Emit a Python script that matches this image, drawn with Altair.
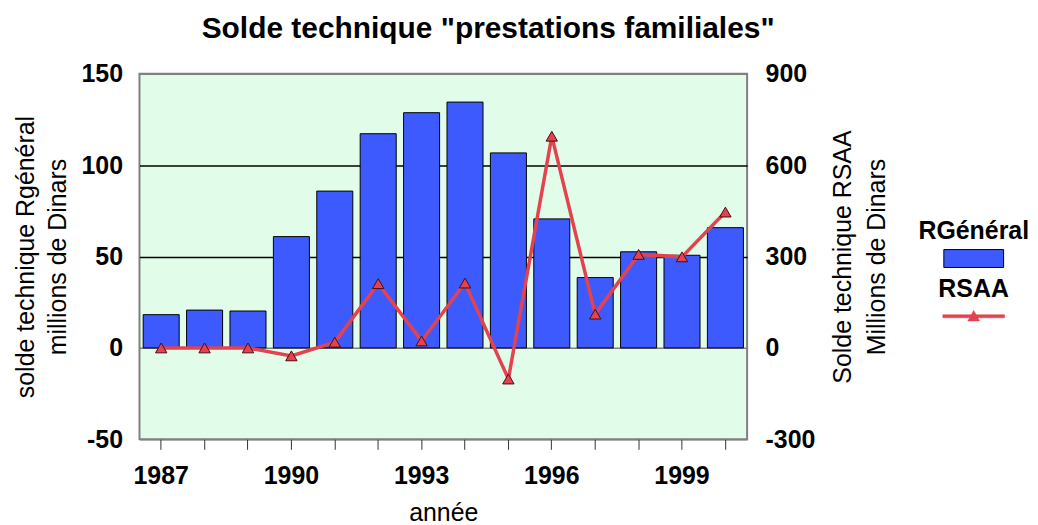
import altair as alt
import pandas as pd

years = [1987, 1988, 1989, 1990, 1991, 1992, 1993, 1994, 1995, 1996, 1997, 1998, 1999, 2000]
rgeneral = [18.2, 20.7, 20.2, 60.9, 85.8, 117.2, 128.7, 134.5, 106.7, 70.6, 38.5, 52.6, 50.7, 65.8]
rsaa = [0, 0, 0, -26, 19, 211, 23, 213, -102, 695, 111, 307, 299, 446]
left_ticks = [-50, 0, 50, 100, 150]
right_ticks = [-300, 0, 300, 600, 900]

df = pd.DataFrame({
    "annee": years,
    "rgeneral": rgeneral,
    "rsaa": rsaa,
    "s1": ["RGénéral"] * len(years),
    "s2": ["RSAA"] * len(years),
})

FONT = "Liberation Sans"
BLUE = "#3d5afe"
RED = "#e2434f"
MINUS = "datum.value < 0 ? '-' + abs(datum.value) : datum.label"

x = alt.X(
    "annee:O",
    scale=alt.Scale(paddingInner=0.17, paddingOuter=0.085),
    axis=alt.Axis(
        title="année",
        labelExpr="(datum.value - 1987) % 3 == 0 ? datum.label : ''",
        labelAngle=0,
        labelFont=FONT, labelFontSize=25, labelFontWeight="bold", labelColor="black",
        labelPadding=14,
        titleFont=FONT, titleFontSize=25, titleFontWeight="normal", titleColor="black",
        titlePadding=12,
        tickSize=10, tickColor="#333333", tickWidth=1,
        domain=False, grid=False,
    ),
)

y_left = alt.Y(
    "rgeneral:Q",
    scale=alt.Scale(domain=[-50, 150], nice=False, zero=False),
    axis=alt.Axis(
        values=left_ticks,
        labelExpr=MINUS,
        title=["solde technique Rgénéral", "millions de Dinars"],
        titleFont=FONT, titleFontSize=25, titleFontWeight="normal", titleColor="black",
        titleLineHeight=32, titlePadding=11,
        labelFont=FONT, labelFontSize=25, labelFontWeight="bold", labelColor="black",
        labelPadding=17,
        ticks=False, domain=False, grid=True,
        gridColor={"condition": {"test": "datum.value === 50 || datum.value === 100", "value": "black"},
                   "value": "#808080"},
        gridWidth=1.5,
    ),
)

y_right = alt.Y(
    "rsaa:Q",
    scale=alt.Scale(domain=[-300, 900], nice=False, zero=False),
    axis=alt.Axis(
        orient="right",
        values=right_ticks,
        labelExpr=MINUS,
        title=["Solde technique RSAA", "Millions de Dinars"],
        titleAngle=270,
        titleFont=FONT, titleFontSize=25, titleFontWeight="normal", titleColor="black",
        titleLineHeight=34, titlePadding=7,
        labelFont=FONT, labelFontSize=25, labelFontWeight="bold", labelColor="black",
        labelPadding=18,
        ticks=False, domain=False, grid=False,
    ),
)

bars = alt.Chart(df).mark_bar(stroke="black", strokeWidth=1).encode(
    x=x,
    y=y_left,
    fill=alt.Fill(
        "s1:N",
        scale=alt.Scale(domain=["RGénéral"], range=[BLUE]),
        legend=alt.Legend(
            title="RGénéral", orient="none", legendX=782, legendY=146,
            labelExpr="''", labelFontSize=1,
            symbolType="M-6,-1.8H6V1.8H-6Z", symbolSize=100,
            symbolStrokeColor="black", symbolStrokeWidth=1, symbolOffset=50,
            titleFont=FONT, titleFontSize=25, titleFontWeight="bold", titleColor="black",
            titlePadding=9, padding=0,
        ),
    ),
)

line = alt.Chart(df).mark_line(color=RED, strokeWidth=3.5).encode(x=x, y=y_right)

points = alt.Chart(df).mark_point(
    filled=True, size=130, stroke="#4a0c10", strokeWidth=1, opacity=1
).encode(
    x=x,
    y=y_right,
    shape=alt.value("triangle-up"),
    fill=alt.Fill(
        "s2:N",
        scale=alt.Scale(domain=["RSAA"], range=[RED]),
        legend=alt.Legend(
            title="RSAA", orient="none", legendX=802, legendY=204,
            labelExpr="''", labelFontSize=1,
            symbolType="M-10,-0.5H10V0.5H-10Z M-1.9,1.5L0,-1.9L1.9,1.5Z", symbolSize=38.44,
            symbolStrokeColor=RED, symbolStrokeWidth=0.5, symbolOffset=32,
            titleFont=FONT, titleFontSize=25, titleFontWeight="bold", titleColor="black",
            titlePadding=11, padding=0,
        ),
    ),
)

chart = alt.layer(
    bars,
    alt.layer(line, points),
).resolve_scale(
    y="independent", fill="independent"
).properties(
    width=610,
    height=367,
    padding={"left": 5, "top": 5, "right": 0, "bottom": 0},
    title=alt.TitleParams(
        'Solde technique "prestations familiales"',
        font=FONT, fontSize=30, fontWeight="bold", color="black",
        anchor="middle", frame="group", dx=45, offset=18,
    ),
).configure_view(
    fill="#e1fdea", stroke="#808080", strokeWidth=2
)

chart.save("out.html", embed_options={"renderer": "svg", "actions": False})
